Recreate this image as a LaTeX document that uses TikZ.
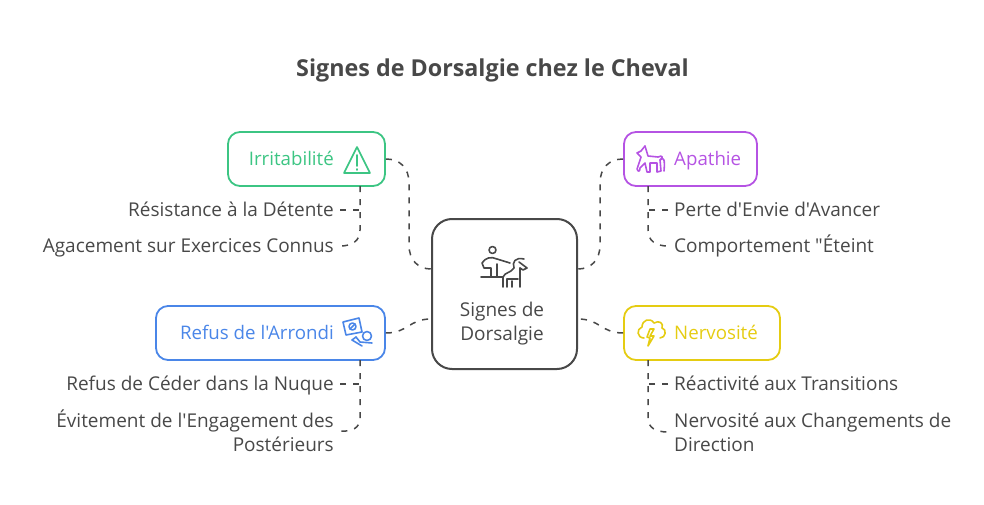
\documentclass[tikz,border=0pt]{standalone}
\usepackage{fontspec}
\setmainfont[Ligatures=TeXOff]{Open Sans}
\usetikzlibrary{positioning}
\definecolor{ink}{HTML}{484848}
\definecolor{irrgreen}{HTML}{3CC583}
\definecolor{apapurple}{HTML}{B553E3}
\definecolor{refblue}{HTML}{4A86E8}
\definecolor{neryellow}{HTML}{E5CC12}
\begin{document}
\begin{tikzpicture}[x=1pt, y=-1pt, line join=round, line cap=round,
    main/.style = {draw, line width=1.8pt, rounded corners=12pt, minimum height=54pt, inner sep=0pt},
    hub/.style = {draw=ink, line width=2pt, rounded corners=20pt, minimum width=145pt, minimum height=150pt, inner sep=0pt},
    head/.style = {font=\fontsize{18.7}{22}\selectfont, inner sep=0pt, text height=14pt, text depth=1pt},
    item/.style = {font=\fontsize{19}{24}\selectfont, text=ink, inner xsep=6pt, inner ysep=0pt},
    oneline/.style = {item, text height=14pt, text depth=1pt},
    link/.style = {draw=ink, line width=1.5pt, dash pattern=on 6pt off 7pt, line cap=butt},
    icon/.style = {line width=1.6pt}]
    \useasboundingbox (0,0) rectangle (984,505);
    \node[font=\bfseries\fontsize{23.3}{28}\selectfont, text=ink, inner sep=0pt] (title) at (492.5,70.5) {Signes de Dorsalgie chez le Cheval};

    \node[hub] (hub) at (504.5,294) {};
    \node[font=\fontsize{19}{24}\selectfont, text=ink, align=center, inner sep=0pt] (hubtext) at (502,323.5) {Signes de\\Dorsalgie};

    \node[main, draw=irrgreen, minimum width=157pt] (irr) at (306.5,159) {};
    \node[main, draw=apapurple, minimum width=133pt] (apa) at (690.5,159) {};
    \node[main, draw=refblue, minimum width=229pt] (ref) at (270.5,333) {};
    \node[main, draw=neryellow, minimum width=156pt] (ner) at (702,333) {};

    \node[head, text=irrgreen, anchor=east] (irrtext) at (334,159) {Irritabilité};
    \node[head, text=apapurple, anchor=west] (apatext) at (674,159) {Apathie};
    \node[head, text=refblue, anchor=east] (reftext) at (334,333) {Refus de l'Arrondi};
    \node[head, text=neryellow, anchor=west] (nertext) at (674,333) {Nervosité};

    \node[oneline, anchor=east] (irr1) at (340,210) {Résistance à la Détente};
    \node[oneline, anchor=east] (irr2) at (340,246) {Agacement sur Exercices Connus};
    \node[oneline, anchor=west] (apa1) at (668,210) {Perte d'Envie d'Avancer};
    \node[oneline, anchor=west] (apa2) at (668,246) {Comportement "Éteint};
    \node[oneline, anchor=east] (ref1) at (340,384) {Refus de Céder dans la Nuque};
    \node[item, anchor=east, align=right] (ref2) at (340,431) {Évitement de l'Engagement des\\Postérieurs};
    \node[oneline, anchor=west] (ner1) at (668,384) {Réactivité aux Transitions};
    \node[item, anchor=west, align=left] (ner2) at (668,432) {Nervosité aux Changements de\\Direction};

    \coordinate (hubL1) at (hub.west |- 0,269);
    \coordinate (hubL2) at (hub.west |- 0,319);
    \coordinate (hubR1) at (hub.east |- 0,269);
    \coordinate (hubR2) at (hub.east |- 0,319);
    \coordinate (irrD) at (360,186);
    \coordinate (apaD) at (648,186);
    \coordinate (refD) at (360,360);
    \coordinate (nerD) at (648,360);

    \draw[link] (irr.east) .. controls (400,159) and (409,168) .. (409,183) -- (409,245) .. controls (409,260) and (418,269) .. (hubL1);
    \draw[link] (apa.west) .. controls (609,159) and (600,168) .. (600,183) -- (600,245) .. controls (600,260) and (591,269) .. (hubR1);
    \draw[link] (ref.east) .. controls (408,333) and (409,319) .. (hubL2);
    \draw[link] (ner.west) .. controls (601,333) and (600,319) .. (hubR2);

    \draw[link] (irrD) -- (360,230) .. controls (360,241) and (352,246) .. (irr2.east);
    \draw[link] (irr1.east) -- (360,210);
    \draw[link] (apaD) -- (648,230) .. controls (648,241) and (656,246) .. (apa2.west);
    \draw[link] (apa1.west) -- (648,210);
    \draw[link] (refD) -- (360,418) .. controls (360,428) and (352,432) .. (ref2.east);
    \draw[link] (ref1.east) -- (360,384);
    \draw[link] (nerD) -- (648,418) .. controls (648,428) and (656,432) .. (ner2.west);
    \draw[link] (ner1.west) -- (648,384);

    % rider and horse
    \begin{scope}[icon, draw=ink]
        \draw (492.5,250) circle (3.5);
        \draw (510,263) -- (497,259) .. controls (491,256) and (485,258) .. (482,263) -- (484,268) -- (491,268) -- (491,276);
        \draw (497,264) -- (497,276);
        \draw (481,277) -- (503,277);
        \draw (503,287) -- (503,277) .. controls (505,272) and (511,273) .. (514,268) .. controls (512,262) and (515,257) .. (524,259);
        \draw (519,262) -- (527,268) -- (523,270) -- (520,268);
        \draw (520,268) -- (520,287);
        \draw (507,287) -- (507,279) -- (518,279);
        \draw (512,287) -- (512,281);
    \end{scope}
    % warning
    \begin{scope}[icon, draw=irrgreen]
        \draw (357,147) -- (344,173) -- (370,173) -- cycle;
        \draw (357,155) -- (357,166);
        \draw (357,169) -- (357,170);
    \end{scope}
    % pony
    \begin{scope}[icon, draw=apapurple]
        \draw (645,146) -- (641,151) -- (637,153) -- (641,157) -- (637,169) .. controls (638,172) and (640,172) .. (640,168) -- (645,163) -- (647,172) -- (650,172) -- (650,163) -- (657,163) -- (657,172) -- (661,171) -- (660,160) .. controls (664,156) and (665,160) .. (664,171);
        \draw (645,146) -- (648,156) -- (658,157) .. controls (662,155) and (664,157) .. (660,160);
    \end{scope}
    % card with coin
    \begin{scope}[icon, draw=refblue]
        \draw (343,322) -- (359,318) -- (362,332) -- (346,335) -- cycle;
        \draw (352.5,326.5) circle (3.5);
        \draw (350,329) -- (355,324);
        \draw (367,336) circle (4.5);
        \draw (356,337) -- (360,342) -- (372,343);
        \draw (356,337) -- (352,340) -- (362,346);
    \end{scope}
    % storm cloud
    \begin{scope}[icon, draw=neryellow]
        \draw (644,338) .. controls (637,338) and (636,329) .. (642,327) .. controls (642,320) and (650,317) .. (654,323) .. controls (659,320) and (664,323) .. (662,328) .. controls (667,329) and (666,338) .. (660,338);
        \draw (654,329) -- (650,336) -- (654,336) -- (648,346) -- (650,338) -- (647,337) -- (650,329) -- cycle;
    \end{scope}
\end{tikzpicture}
\end{document}
